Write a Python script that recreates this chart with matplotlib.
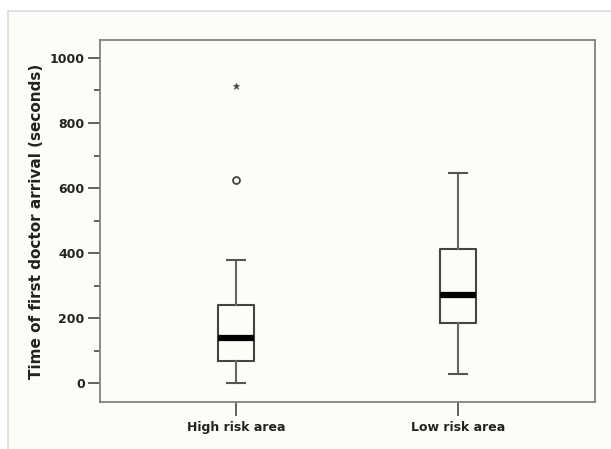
import matplotlib
matplotlib.use("Agg")
import matplotlib.pyplot as plt
from matplotlib.patches import Rectangle

# values (seconds)
groups = ["High risk area", "Low risk area"]
whisker_low = [0, 27]
q1 = [68, 184]
median = [140, 272]
q3 = [239, 411]
whisker_high = [379, 647]
outliers = [[624], []]      # circles
extremes = [[914], []]      # stars

yticks = [0, 200, 400, 600, 800, 1000]
yminor = [100, 300, 500, 700, 900]

bg = "#fdfdf7"

fig = plt.figure(figsize=(6.11, 4.49), dpi=100)
fig.patch.set_facecolor("white")
# cream panel with light grey frame
panel = Rectangle((8 / 611, -0.01), 1, 1.01 - 11 / 449, transform=fig.transFigure,
                  facecolor=bg, edgecolor="#dcdcdc", lw=1.2, zorder=-5)
fig.add_artist(panel)

ax = fig.add_axes([0.1637, 0.1047, 0.810, 0.806])
ax.set_zorder(2)
ax.set_facecolor(bg)

stats = []
for i in range(len(groups)):
    stats.append({
        "label": groups[i],
        "whislo": whisker_low[i],
        "q1": q1[i],
        "med": median[i],
        "q3": q3[i],
        "whishi": whisker_high[i],
        "fliers": [],
    })

ax.bxp(stats, positions=[1, 2], widths=0.165, showfliers=False,
       boxprops=dict(color="#444444", lw=1.5),
       medianprops=dict(color="black", lw=4.5, solid_capstyle="butt"),
       whiskerprops=dict(color="#666666", lw=1.5),
       capprops=dict(color="#555555", lw=1.5), capwidths=0.08)

for i in range(len(groups)):
    for v in outliers[i]:
        ax.plot(i + 1, v, marker="o", ms=5, mfc="none", mec="#444444", mew=1.3)
    for v in extremes[i]:
        ax.plot(i + 1, v, marker="*", ms=5, mfc="#444444", mec="#444444", mew=0.5)

ax.set_xlim(0.386, 2.618)
ax.set_ylim(-58, 1055)
ax.set_yticks(yticks)
ax.set_yticks(yminor, minor=True)
ax.set_xticks([1, 2])
ax.set_xticklabels(groups)

for s in ax.spines.values():
    s.set_color("#808080")
    s.set_linewidth(1.3)

ax.tick_params(axis="y", which="major", length=9, width=1.3, color="#555555",
               labelsize=9, pad=2)
ax.tick_params(axis="y", which="minor", length=4, width=1.3, color="#555555")
ax.tick_params(axis="x", length=10, width=1.3, color="#555555", labelsize=9, pad=4)
for lab in ax.get_xticklabels() + ax.get_yticklabels():
    lab.set_fontweight("bold")
    lab.set_color("#222222")

ax.set_ylabel("Time of first doctor arrival (seconds)", fontsize=11,
              fontweight="bold", color="#222222", labelpad=4)

fig.savefig("out.png", dpi=100, facecolor=fig.get_facecolor())
